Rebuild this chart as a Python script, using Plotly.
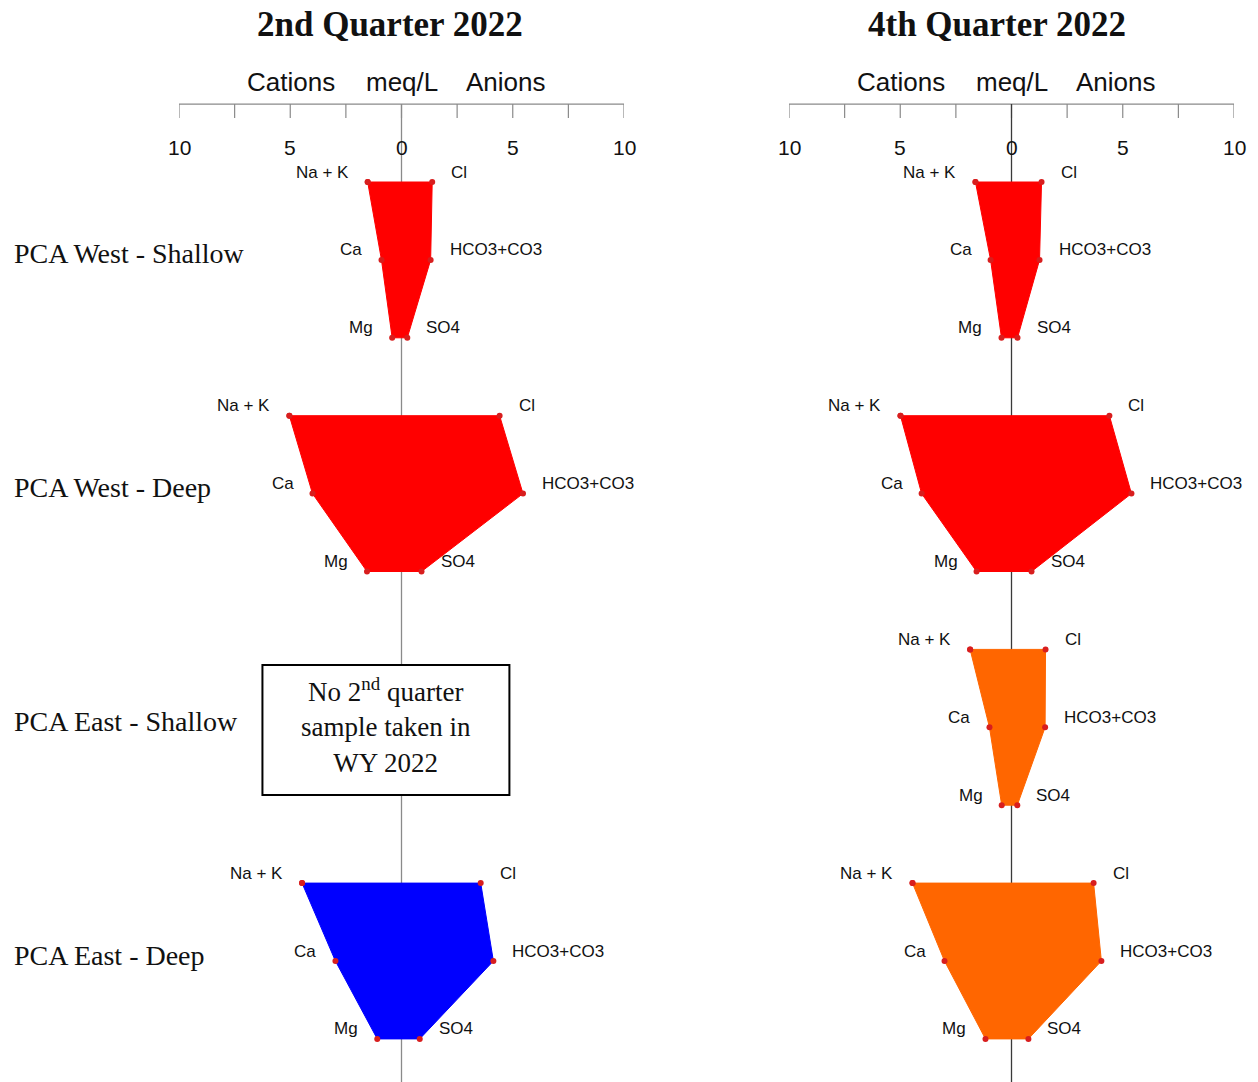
import plotly.graph_objects as go

sites = ["PCA West - Shallow", "PCA West - Deep", "PCA East - Shallow", "PCA East - Deep"]
panel_titles = ["2nd Quarter 2022", "4th Quarter 2022"]
ion_left = ["Na + K", "Ca", "Mg"]
ion_right = ["Cl", "HCO3+CO3", "SO4"]
tick_vals = [-10, -5, 0, 5, 10]
tick_text = ["10", "5", "0", "5", "10"]
minor_ticks = [-10, -7.5, -5, -2.5, 0, 2.5, 5, 7.5, 10]

# meq/L values (None = no sample)
q2_nak = [1.52, 5.04, None, 4.47]
q2_ca = [0.90, 4.00, None, 2.97]
q2_mg = [0.42, 1.55, None, 1.09]
q2_cl = [1.38, 4.41, None, 3.56]
q2_hco3 = [1.31, 5.46, None, 4.13]
q2_so4 = [0.26, 0.90, None, 0.82]

q4_nak = [1.62, 4.99, 1.86, 4.45]
q4_ca = [0.94, 4.04, 0.99, 3.01]
q4_mg = [0.45, 1.57, 0.44, 1.17]
q4_cl = [1.35, 4.40, 1.53, 3.69]
q4_hco3 = [1.26, 5.39, 1.51, 4.04]
q4_so4 = [0.27, 0.90, 0.26, 0.76]

q2_colors = ["#ff0000", "#ff0000", None, "#0000ff"]
q4_colors = ["#ff0000", "#ff0000", "#ff6600", "#ff6600"]

# page body has an 8px margin, so the figure is drawn 8px in from the top-left
OFF = 8
W, H = 1258 - OFF, 1082 - OFF
fig = go.Figure()

panels = [
    ("x", "y", [q2_nak, q2_ca, q2_mg, q2_cl, q2_hco3, q2_so4], q2_colors, "#8a8a8a"),
    ("x2", "y", [q4_nak, q4_ca, q4_mg, q4_cl, q4_hco3, q4_so4], q4_colors, "#3a3a3a"),
]

shapes = []
annotations = []
ion_font = dict(family="Arial, Liberation Sans, sans-serif", size=17, color="#111")

for pi, (xr, yr, vals, cols, cl_color) in enumerate(panels):
    nak, ca, mg, cl, hco3, so4 = vals
    shapes.append(dict(type="line", xref=xr, yref=yr, x0=-10, x1=10, y0=-1, y1=-1,
                       line=dict(color="#8a8a8a", width=1.2), layer="below"))
    for t in minor_ticks:
        shapes.append(dict(type="line", xref=xr, yref=yr, x0=t, x1=t, y0=-1, y1=-0.82,
                           line=dict(color="#8a8a8a", width=1.2), layer="below"))
    shapes.append(dict(type="line", xref=xr, yref=yr, x0=0, x1=0, y0=-1, y1=12,
                       line=dict(color=cl_color, width=1.3), layer="below"))
    for tv, tt in zip(tick_vals, tick_text):
        annotations.append(dict(x=tv, y=-1, xref=xr, yref=yr, text=tt, showarrow=False,
                                yshift=-43, font=dict(family="Arial, Liberation Sans, sans-serif", size=21, color="#111")))
    for txt, xv in [("Cations", -4.95), ("meq/L", 0), ("Anions", 4.7)]:
        annotations.append(dict(x=xv, y=-1, xref=xr, yref=yr, text=txt, showarrow=False,
                                yshift=22, font=dict(family="Arial, Liberation Sans, sans-serif", size=26, color="#111")))
    for si in range(len(sites)):
        if nak[si] is None:
            continue
        r0 = si * 3
        xs = [-nak[si], -ca[si], -mg[si], so4[si], hco3[si], cl[si], -nak[si]]
        ys = [r0, r0 + 1, r0 + 2, r0 + 2, r0 + 1, r0, r0]
        fig.add_trace(go.Scatter(x=xs, y=ys, xaxis=xr, yaxis=yr, mode="lines+markers",
                                 fill="toself", fillcolor=cols[si],
                                 line=dict(color=cols[si], width=1),
                                 marker=dict(color="#d81e1e", size=6),
                                 hoverinfo="skip", showlegend=False, cliponaxis=False))
        for k, (lab, v) in enumerate(zip(ion_left, [nak[si], ca[si], mg[si]])):
            annotations.append(dict(x=-v, y=r0 + k, xref=xr, yref=yr, text=lab, showarrow=False,
                                    xanchor="right", xshift=-17, yshift=10, font=ion_font))
        for k, (lab, v) in enumerate(zip(ion_right, [cl[si], hco3[si], so4[si]])):
            annotations.append(dict(x=v, y=r0 + k, xref=xr, yref=yr, text=lab, showarrow=False,
                                    xanchor="left", xshift=17, yshift=10, font=ion_font))

for xc, t in zip([390 - OFF, 997 - OFF], panel_titles):
    annotations.append(dict(x=xc / W, y=1 - (25 - OFF) / H, xref="paper", yref="paper", text="<b>" + t + "</b>",
                            showarrow=False, xanchor="center", yanchor="middle", borderpad=0,
                            font=dict(family="Liberation Serif, Times New Roman, serif", size=35, color="#111")))

for si, s in enumerate(sites):
    annotations.append(dict(x=(12 - OFF) / W, y=si * 3 + 1, xref="paper", yref="y", text=s, showarrow=False,
                            xanchor="left", yshift=6,
                            font=dict(family="Liberation Serif, Times New Roman, serif", size=28, color="#111")))

shapes.append(dict(type="rect", xref="x", yref="y", x0=-6.25, x1=4.85, y0=6.2, y1=7.87,
                   line=dict(color="#000", width=2), fillcolor="white", layer="above"))
annotations.append(dict(x=-0.7, y=6.975, xref="x", yref="y",
                        text="No 2<sup>nd</sup> quarter<br>sample taken in<br>WY 2022",
                        showarrow=False, align="center",
                        font=dict(family="Liberation Serif, Times New Roman, serif", size=27, color="#111")))

row0 = 182 - OFF
ytop = -row0 / 77.9
ybot = (H - row0) / 77.9
ax_common = dict(range=[-10, 10], showgrid=False, zeroline=False, showticklabels=False,
                 ticks="", showline=False, fixedrange=True)
fig.update_layout(
    width=W, height=H,
    margin=dict(l=0, r=0, t=0, b=0),
    paper_bgcolor="white", plot_bgcolor="white",
    xaxis=dict(domain=[(179 - OFF) / W, (624 - OFF) / W], anchor="y", **ax_common),
    xaxis2=dict(domain=[(789 - OFF) / W, (1234 - OFF) / W], anchor="y", **ax_common),
    yaxis=dict(range=[ybot, ytop], domain=[0, 1], showgrid=False, zeroline=False,
               showticklabels=False, ticks="", showline=False, fixedrange=True),
    shapes=shapes, annotations=annotations, showlegend=False,
)

fig.write_html("out.html")
